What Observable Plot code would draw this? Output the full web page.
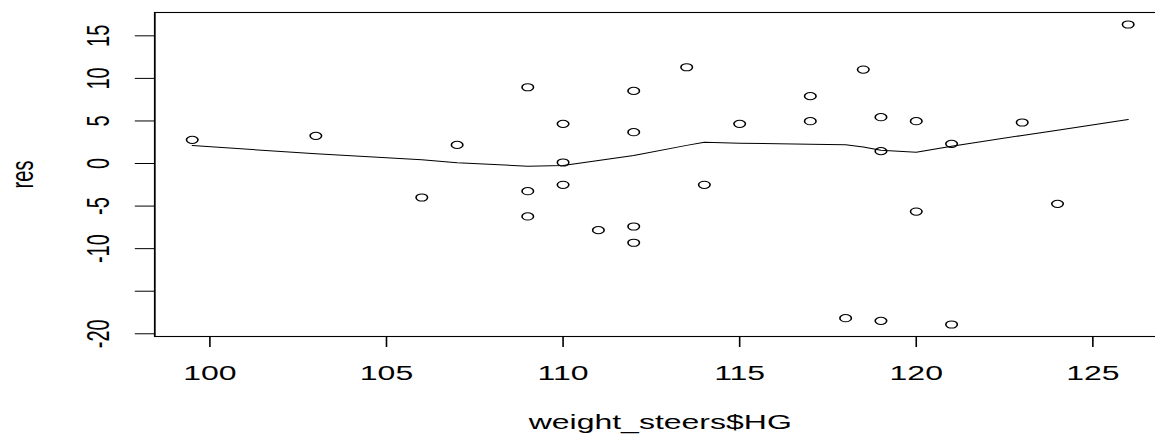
<!DOCTYPE html>
<html>
<head>
<meta charset="utf-8">
<script src="https://cdn.jsdelivr.net/npm/d3@7"></script>
<script src="https://cdn.jsdelivr.net/npm/@observablehq/plot@0.6"></script>
<style>
  html, body { margin: 0; padding: 0; background: #ffffff; overflow: hidden; }
  #chart svg { transform: scaleX(1.6); transform-origin: 0 0; display: block; max-width: none !important; }
</style>
</head>
<body>
<div id="chart"></div>
<script>
// Observed points: weight_steers$HG vs residuals
const hg = [99.5, 103, 106, 107, 109, 109, 109, 110, 110, 110, 111, 112, 112, 112, 112, 113.5, 114, 115, 117, 117, 118, 118.5, 119, 119, 119, 120, 120, 121, 121, 123, 124, 126];
const res = [2.78, 3.25, -3.99, 2.19, 8.96, -3.25, -6.22, 4.66, 0.12, -2.5, -7.83, 8.53, 3.68, -7.4, -9.31, 11.31, -2.5, 4.66, 7.91, 4.97, -18.17, 11.04, 5.44, 1.45, -18.48, 4.97, -5.64, 2.31, -18.91, 4.82, -4.74, 16.33];

// Lowess smooth (fitted values at each distinct HG)
const lowX = [99.5, 103, 106, 107, 109, 110, 111, 112, 113.5, 114, 115, 117, 118, 118.5, 119, 120, 121, 123, 124, 126];
const lowY = [2.11, 1.14, 0.43, 0.08, -0.31, -0.23, 0.35, 0.94, 2.13, 2.5, 2.39, 2.27, 2.2, 1.95, 1.57, 1.33, 2.03, 3.3, 3.9, 5.17];

// Axes
const xTicks = [100, 105, 110, 115, 120, 125];
const yTicks = [-20, -15, -10, -5, 0, 5, 10, 15];
const yTickLabels = ["-20", "", "-10", "-5", "0", "5", "10", "15"];
const xTitle = "weight_steers$HG";
const yTitle = "res";

const points = hg.map((x, i) => ({x, y: res[i]}));
const smooth = lowX.map((x, i) => ({x, y: lowY[i]}));
const yLabelOf = new Map(yTicks.map((t, i) => [t, yTickLabels[i]]));

const chart = Plot.plot({
  width: 730,
  height: 435,
  marginLeft: 96.25,
  marginRight: 2,
  marginTop: 12,
  marginBottom: 99,
  x: {domain: [98.44, 127.06]},
  y: {domain: [-20.32, 17.74]},
  style: {fontFamily: "'Liberation Sans', Arial, sans-serif", fontSize: "20px", background: "#ffffff", color: "#000000"},
  marks: [
    Plot.frame({stroke: "#000000", strokeWidth: 1.1}),
    Plot.axisX(xTicks, {tickSize: 11, tickPadding: 18.5, label: null, tickFormat: d => String(d)}),
    Plot.axisY(yTicks, {tickSize: 12, tickPadding: 16.75, tickRotate: -90, textAnchor: "middle", lineAnchor: "bottom", label: null, tickFormat: d => yLabelOf.get(d)}),
    Plot.line(smooth, {x: "x", y: "y", stroke: "#000000", strokeWidth: 1}),
    Plot.dot(points, {x: "x", y: "y", r: 3.6, stroke: "#000000", strokeWidth: 1, fill: "none"}),
    Plot.text([yTitle], {text: d => d, frameAnchor: "left", rotate: -90, dx: -76.25, textAnchor: "middle", lineAnchor: "bottom"}),
    Plot.text([xTitle], {text: d => d, frameAnchor: "bottom", dy: 92, lineAnchor: "bottom"})
  ]
});
document.getElementById("chart").appendChild(chart);
</script>
</body>
</html>
